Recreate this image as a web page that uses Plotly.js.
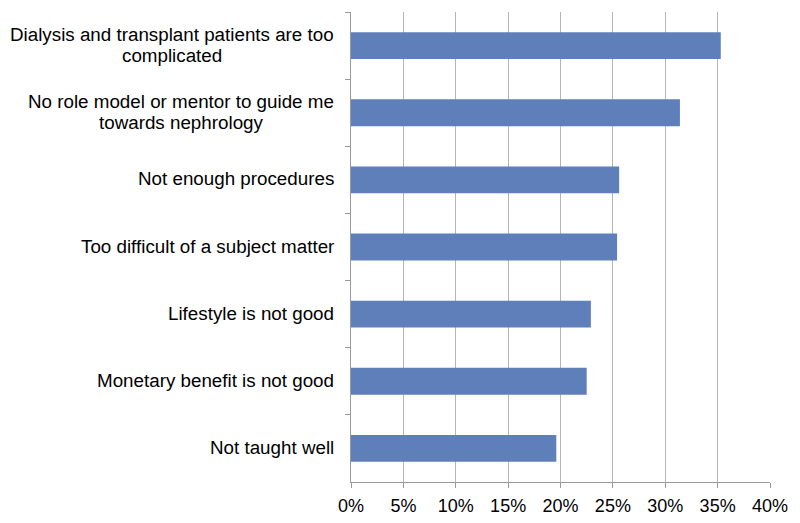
<!DOCTYPE html>
<html>
<head>
<meta charset="utf-8">
<script src="https://cdn.plot.ly/plotly-3.0.1.min.js"></script>
<style>html,body{margin:0;padding:0;background:#fff;}#chart{width:800px;height:523px;}</style>
</head>
<body>
<div id="chart"></div>
<script>
const categories = [
  "Dialysis and transplant patients are too<br>complicated",
  "No role model or mentor to guide me<br>towards nephrology",
  "Not enough procedures",
  "Too difficult of a subject matter",
  "Lifestyle is not good",
  "Monetary benefit is not good",
  "Not taught well"
];
const values = [0.353, 0.314, 0.256, 0.254, 0.229, 0.225, 0.196];
const xTickVals = [0, 0.05, 0.10, 0.15, 0.20, 0.25, 0.30, 0.35, 0.40];
const xTickText = ["0%", "5%", "10%", "15%", "20%", "25%", "30%", "35%", "40%"];

const fontFamily = "Liberation Sans, Arial, sans-serif";
const catSize = 18.8;
const lineGap = 21;
const labelRightShift = -17;

// measure text so multi-line labels can be centred on their widest line
const ctx = document.createElement("canvas").getContext("2d");
ctx.font = catSize + "px 'Liberation Sans', Arial, sans-serif";

const annotations = [];
categories.forEach(c => {
  const lines = c.split("<br>");
  const widths = lines.map(l => ctx.measureText(l).width);
  const maxW = Math.max.apply(null, widths);
  const n = lines.length;
  lines.forEach((l, i) => {
    annotations.push({
      xref: "paper", yref: "y",
      x: 0, y: c,
      xshift: labelRightShift - maxW / 2,
      yshift: ((n - 1) / 2 - i) * lineGap + 1,
      xanchor: "center", yanchor: "middle",
      text: l,
      showarrow: false,
      font: {family: fontFamily, size: catSize, color: "#000"}
    });
  });
});

const trace = {
  type: "bar",
  orientation: "h",
  x: values,
  y: categories,
  width: 0.4,
  marker: {color: "#5F7FBA", line: {width: 0}},
  hoverinfo: "none"
};

const layout = {
  width: 800, height: 523,
  margin: {l: 350.5, r: 30, t: 12, b: 41, pad: 0},
  paper_bgcolor: "#fff", plot_bgcolor: "#fff",
  showlegend: false,
  xaxis: {
    range: [0, 0.40],
    tickvals: xTickVals, ticktext: xTickText,
    showgrid: true, gridcolor: "#B5B5B5", gridwidth: 1,
    showline: true, linecolor: "#9A9A9A", linewidth: 1,
    ticks: "outside", ticklen: 5, tickcolor: "#9A9A9A",
    ticklabelstandoff: 2,
    zeroline: false,
    tickfont: {family: fontFamily, size: 18, color: "#000"},
    fixedrange: true
  },
  yaxis: {
    type: "category",
    autorange: "reversed",
    showticklabels: false,
    showgrid: false,
    showline: true, linecolor: "#9A9A9A", linewidth: 1,
    ticks: "outside", ticklen: 5, tickcolor: "#9A9A9A",
    tickson: "boundaries",
    zeroline: false,
    fixedrange: true
  },
  annotations: annotations
};

Plotly.newPlot("chart", [trace], layout, {displayModeBar: false, staticPlot: true});
</script>
</body>
</html>
